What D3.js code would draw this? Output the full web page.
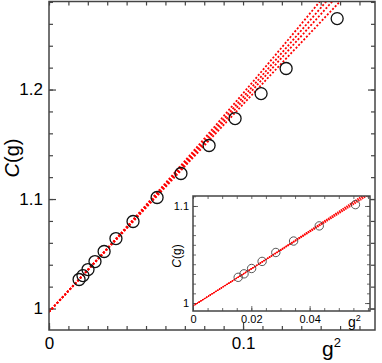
<!DOCTYPE html>
<html>
<head>
<meta charset="utf-8">
<script src="https://cdn.jsdelivr.net/npm/d3@7"></script>
<style>
  body { margin: 0; background: #fff; }
  svg { font-family: "Liberation Sans", Arial, sans-serif; }
  .frame { fill: none; stroke: #444; stroke-width: 1.5; }
  .tick line { stroke: #444; }
  .domain { display: none; }
</style>
</head>
<body>
<div id="chart"></div>
<script>
// data
var g2 = [0.0155, 0.0175, 0.0201, 0.0237, 0.0284, 0.0345, 0.0433, 0.0557,
          0.0680, 0.0825, 0.0959, 0.1093, 0.1222, 0.1485];
var cg = [1.0265, 1.0301, 1.0356, 1.0429, 1.0521, 1.0639, 1.0795, 1.1014,
          1.1233, 1.1489, 1.1735, 1.1963, 1.2192, 1.2648];
var insetCount = 8;

// fit curves C = a + b*g2 + c*g2^2
var fitA = [0.997, 0.997, 0.997, 0.997];
var fitB = [1.905, 1.905, 1.905, 1.905];
var fitC = [0.9, 0.55, 0.25, -0.1];

var mainXTicks = [0, 0.1];
var mainYTicks = [1, 1.1, 1.2];
var insetXTicks = [0, 0.02, 0.04];
var insetYTicks = [1, 1.1];

var W = 382, H = 363;
var svg = d3.select("#chart").append("svg").attr("width", W).attr("height", H);

function range(a, b, s) { var r = []; for (var v = a; v <= b + 1e-9; v += s) r.push(+v.toFixed(4)); return r; }

function panel(g, x, y, o) {
  var x0 = x.range()[0], x1 = x.range()[1], y0 = y.range()[0], y1 = y.range()[1];
  var clipId = "clip" + o.id;
  g.append("clipPath").attr("id", clipId).append("rect")
    .attr("x", x0).attr("y", y1).attr("width", x1 - x0).attr("height", y0 - y1);
  if (o.bg) g.append("rect").attr("x", x0).attr("y", y1).attr("width", x1 - x0).attr("height", y0 - y1).attr("fill", "#fff");

  // minor ticks on all sides
  var xm = range(0, x.domain()[1], o.xMinor);
  var ym = range(Math.ceil(y.domain()[0] / o.yMinor) * o.yMinor, y.domain()[1], o.yMinor);
  g.append("g").attr("transform", "translate(0," + y0 + ")")
    .call(d3.axisBottom(x).tickValues(xm).tickSize(-o.tMinor).tickFormat(""));
  g.append("g").attr("transform", "translate(0," + y1 + ")")
    .call(d3.axisTop(x).tickValues(xm).tickSize(-o.tMinor).tickFormat(""));
  g.append("g").attr("transform", "translate(" + x0 + ",0)")
    .call(d3.axisLeft(y).tickValues(ym).tickSize(-o.tMinor).tickFormat(""));
  g.append("g").attr("transform", "translate(" + x1 + ",0)")
    .call(d3.axisRight(y).tickValues(ym).tickSize(-o.tMinor).tickFormat(""));
  // major ticks with labels
  g.append("g").attr("transform", "translate(0," + y0 + ")")
    .call(d3.axisBottom(x).tickValues(o.xTicks).tickSize(-o.tMajor).tickPadding(o.padX).tickFormat(d3.format("")))
    .selectAll("text").attr("font-size", o.fs).attr("fill", "#000");
  g.append("g").attr("transform", "translate(" + x0 + ",0)")
    .call(d3.axisLeft(y).tickValues(o.yTicks).tickSize(-o.tMajor).tickPadding(o.padY).tickFormat(d3.format("")))
    .selectAll("text").attr("font-size", o.fs).attr("fill", "#000");
  g.append("g").attr("transform", "translate(" + x1 + ",0)")
    .call(d3.axisRight(y).tickValues(o.yTicks).tickSize(-o.tMajor).tickFormat(""));
  g.selectAll(".tick line").attr("stroke-width", o.sw);

  // fit curves
  var xs = d3.range(0, x.domain()[1] + 1e-6, x.domain()[1] / 200);
  var line = d3.line().x(function(d) { return x(d[0]); }).y(function(d) { return y(d[1]); });
  var lines = g.append("g").attr("clip-path", "url(#" + clipId + ")");
  fitA.forEach(function(a, i) {
    var pts = xs.map(function(v) { return [v, a + fitB[i] * v + fitC[i] * v * v]; });
    lines.append("path").attr("d", line(pts)).attr("fill", "none")
      .attr("stroke", "#f00").attr("stroke-width", o.lw).attr("stroke-dasharray", o.dash);
  });

  // data
  g.append("g").selectAll("circle").data(g2.slice(0, o.n)).enter().append("circle")
    .attr("cx", function(d) { return x(d); })
    .attr("cy", function(d, i) { return y(cg[i]); })
    .attr("r", o.r).attr("fill", "none").attr("stroke", o.cs).attr("stroke-width", o.csw);

  g.append("rect").attr("class", "frame").attr("x", x0).attr("y", y1)
    .attr("width", x1 - x0).attr("height", y0 - y1).attr("stroke-width", o.fw);
}

// main chart
var x = d3.scaleLinear().domain([0, 0.168]).range([49, 375]);
var y = d3.scaleLinear().domain([0.9804, 1.2804]).range([330, 1.5]);
var main = svg.append("g");
panel(main, x, y, { id: "m", xMinor: 0.01, yMinor: 0.02, tMinor: 4, tMajor: 7, padX: 7, padY: 6,
  xTicks: mainXTicks, yTicks: mainYTicks, fs: 17, sw: 1.2, lw: 1.8, dash: "2,1.8",
  n: g2.length, r: 6, cs: "#111", csw: 1.3, fw: 1.6 });
main.append("text").attr("x", 322).attr("y", 356).attr("font-size", 21)
  .text("g").append("tspan").attr("font-size", 13).attr("dy", -9).text("2");
main.append("text").attr("transform", "translate(19,158) rotate(-90)")
  .attr("text-anchor", "middle").attr("font-size", 20)
  .html('<tspan font-style="italic">C</tspan>(g)');

// inset
var xi = d3.scaleLinear().domain([0, 0.0607]).range([193, 370]);
var yi = d3.scaleLinear().domain([0.9918, 1.1103]).range([311, 196]);
var inset = svg.append("g");
panel(inset, xi, yi, { id: "i", bg: true, xMinor: 0.005, yMinor: 0.01, tMinor: 3, tMajor: 5, padX: 4, padY: 4,
  xTicks: insetXTicks, yTicks: insetYTicks, fs: 11, sw: 0.8, lw: 1.1, dash: "1.4,0.8",
  n: insetCount, r: 4.2, cs: "#444", csw: 0.9, fw: 1 });
inset.append("text").attr("x", 348).attr("y", 327).attr("font-size", 14)
  .text("g").append("tspan").attr("font-size", 9).attr("dy", -6).text("2");
inset.append("text").attr("transform", "translate(181,256) rotate(-90)")
  .attr("text-anchor", "middle").attr("font-size", 12)
  .html('<tspan font-style="italic">C</tspan>(g)');
</script>
</body>
</html>
